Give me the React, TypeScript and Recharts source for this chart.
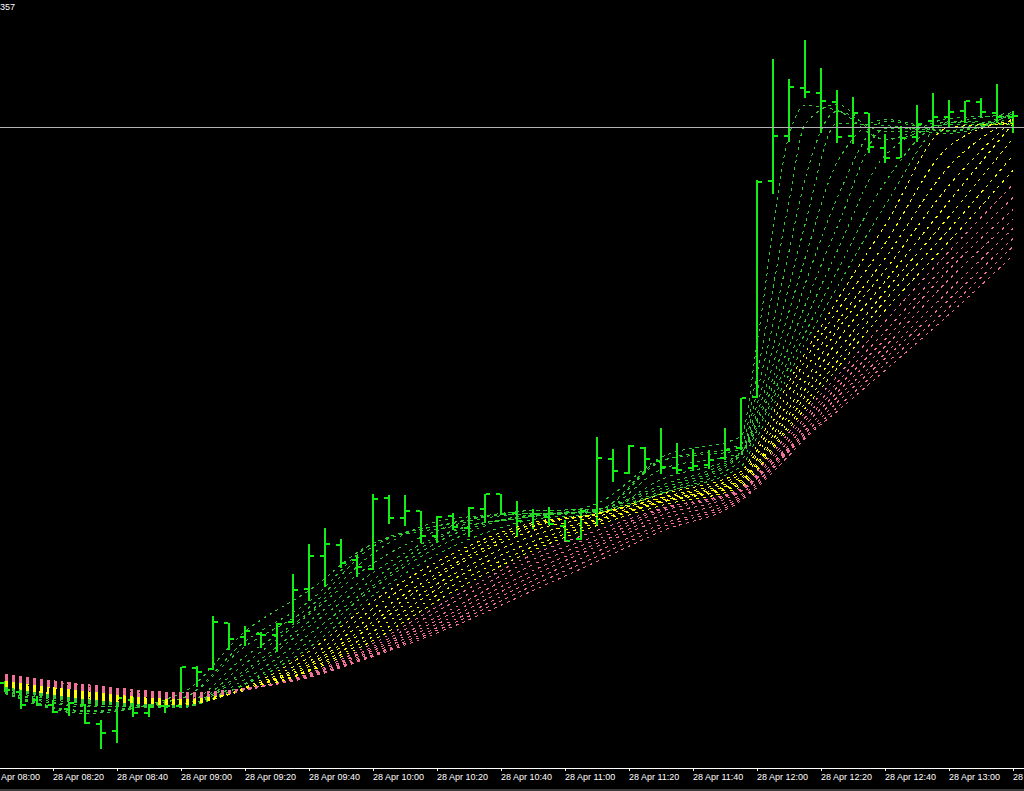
// App.tsx

import { ComposedChart, Bar, Line, XAxis, YAxis, ReferenceLine } from "recharts";

// 5 minute bars, 28 Apr 08:05 .. 13:20
const barOpen = [1.2117,1.2108,1.2100,1.2095,1.2091,1.2095,1.2076,1.2069,1.2100,1.2087,1.2094,1.2094,1.2132,1.2131,1.2177,1.2163,1.2167,1.2166,1.2178,1.2211,1.2244,1.2255,1.2240,1.2231,1.2302,1.2282,1.2289,1.2264,1.2284,1.2272,1.2291,1.2307,1.2288,1.2285,1.2283,1.2274,1.2261,1.2290,1.2341,1.2328,1.2352,1.2339,1.2332,1.2332,1.2335,1.2342,1.2352,1.2403,1.2619,1.2664,1.2712,1.2707,1.2698,1.2664,1.2687,1.2652,1.2642,1.2663,1.2679,1.2683,1.2690,1.2698,1.2687,1.2683];
const barHigh = [1.2119,1.2110,1.2105,1.2100,1.2098,1.2096,1.2080,1.2106,1.2104,1.2095,1.2100,1.2133,1.2134,1.2185,1.2177,1.2174,1.2168,1.2177,1.2227,1.2256,1.2272,1.2261,1.2246,1.2307,1.2306,1.2306,1.2289,1.2284,1.2288,1.2293,1.2307,1.2307,1.2299,1.2291,1.2293,1.2280,1.2290,1.2363,1.2351,1.2355,1.2353,1.2372,1.2357,1.2351,1.2350,1.2372,1.2402,1.2620,1.2741,1.2721,1.2760,1.2732,1.2711,1.2703,1.2687,1.2666,1.2674,1.2695,1.2707,1.2700,1.2699,1.2702,1.2716,1.2689];
const barLow = [1.2108,1.2091,1.2094,1.2087,1.2085,1.2076,1.2051,1.2057,1.2084,1.2084,1.2087,1.2094,1.2113,1.2130,1.2150,1.2154,1.2152,1.2148,1.2177,1.2199,1.2213,1.2232,1.2223,1.2230,1.2276,1.2274,1.2257,1.2257,1.2270,1.2263,1.2278,1.2286,1.2263,1.2271,1.2275,1.2258,1.2260,1.2275,1.2318,1.2327,1.2328,1.2327,1.2327,1.2329,1.2331,1.2340,1.2350,1.2402,1.2606,1.2658,1.2702,1.2667,1.2657,1.2656,1.2647,1.2637,1.2642,1.2658,1.2671,1.2673,1.2677,1.2683,1.2677,1.2667];
const barClose = [1.2110,1.2095,1.2095,1.2088,1.2097,1.2077,1.2067,1.2103,1.2087,1.2093,1.2094,1.2133,1.2128,1.2178,1.2161,1.2169,1.2166,1.2176,1.2210,1.2244,1.2256,1.2237,1.2233,1.2301,1.2282,1.2289,1.2265,1.2283,1.2273,1.2292,1.2307,1.2287,1.2279,1.2287,1.2276,1.2259,1.2289,1.2342,1.2329,1.2354,1.2341,1.2333,1.2330,1.2334,1.2340,1.2350,1.2402,1.2618,1.2664,1.2713,1.2708,1.2699,1.2663,1.2687,1.2653,1.2642,1.2662,1.2676,1.2683,1.2688,1.2699,1.2688,1.2683,1.2684];

// time axis (bar index -1 = 08:00)
const tickBars = [-1, 3, 7, 11, 15, 19, 23, 27, 31, 35, 39, 43, 47, 51, 55, 59, 63];
const tickLabels = [
  "28 Apr 08:00", "28 Apr 08:20", "28 Apr 08:40", "28 Apr 09:00", "28 Apr 09:20",
  "28 Apr 09:40", "28 Apr 10:00", "28 Apr 10:20", "28 Apr 10:40", "28 Apr 11:00",
  "28 Apr 11:20", "28 Apr 11:40", "28 Apr 12:00", "28 Apr 12:20", "28 Apr 12:40",
  "28 Apr 13:00", "28 Apr 13:20",
];

const priceLine = 1.2673;

// moving average ribbon, read at these bars
const ribbonBars = [0, 5, 11, 15, 19, 23, 28, 33, 37, 41, 46, 47, 49, 50, 52, 55, 59, 63];
const ma03 = [1.2107,1.2087,1.2107,1.2169,1.2210,1.2257,1.2274,1.2284,1.2297,1.2343,1.2364,1.2457,1.2665,1.2695,1.2690,1.2661,1.2682,1.2685];
const ma04 = [1.2107,1.2089,1.2102,1.2159,1.2199,1.2257,1.2277,1.2290,1.2291,1.2339,1.2356,1.2427,1.2599,1.2676,1.2696,1.2661,1.2677,1.2688];
const ma05 = [1.2108,1.2090,1.2102,1.2154,1.2193,1.2254,1.2278,1.2290,1.2291,1.2340,1.2351,1.2409,1.2549,1.2621,1.2689,1.2669,1.2670,1.2688];
const ma06 = [1.2109,1.2094,1.2096,1.2144,1.2188,1.2247,1.2282,1.2287,1.2289,1.2331,1.2348,1.2396,1.2514,1.2576,1.2677,1.2675,1.2667,1.2687];
const ma07 = [1.2109,1.2095,1.2093,1.2137,1.2186,1.2237,1.2275,1.2287,1.2288,1.2321,1.2347,1.2387,1.2489,1.2542,1.2638,1.2681,1.2670,1.2686];
const ma08 = [1.2110,1.2097,1.2094,1.2130,1.2179,1.2228,1.2270,1.2284,1.2291,1.2315,1.2348,1.2381,1.2469,1.2516,1.2602,1.2679,1.2669,1.2683];
const ma09 = [1.2111,1.2098,1.2093,1.2127,1.2174,1.2221,1.2269,1.2285,1.2291,1.2312,1.2346,1.2378,1.2454,1.2495,1.2573,1.2672,1.2673,1.2678];
const ma10 = [1.2111,1.2099,1.2093,1.2121,1.2166,1.2215,1.2266,1.2284,1.2289,1.2309,1.2345,1.2373,1.2442,1.2479,1.2549,1.2645,1.2676,1.2676];
const ma11 = [1.2112,1.2100,1.2094,1.2117,1.2159,1.2212,1.2261,1.2286,1.2288,1.2307,1.2340,1.2370,1.2434,1.2467,1.2529,1.2618,1.2679,1.2677];
const ma12 = [1.2113,1.2101,1.2095,1.2116,1.2153,1.2205,1.2254,1.2281,1.2287,1.2307,1.2334,1.2363,1.2426,1.2457,1.2513,1.2595,1.2678,1.2676];
const ma13 = [1.2114,1.2102,1.2096,1.2113,1.2149,1.2199,1.2247,1.2278,1.2287,1.2306,1.2329,1.2355,1.2419,1.2447,1.2500,1.2575,1.2673,1.2677];
const ma14 = [1.2115,1.2103,1.2096,1.2112,1.2143,1.2192,1.2242,1.2276,1.2286,1.2303,1.2326,1.2350,1.2410,1.2440,1.2489,1.2557,1.2654,1.2680];
const ma15 = [1.2115,1.2104,1.2097,1.2111,1.2139,1.2185,1.2236,1.2274,1.2287,1.2302,1.2323,1.2346,1.2400,1.2430,1.2478,1.2542,1.2634,1.2682];
const ma16 = [1.2116,1.2105,1.2098,1.2111,1.2136,1.2179,1.2233,1.2270,1.2284,1.2300,1.2321,1.2341,1.2392,1.2419,1.2470,1.2530,1.2615,1.2681];
const ma17 = [1.2117,1.2106,1.2099,1.2111,1.2134,1.2175,1.2226,1.2265,1.2281,1.2299,1.2320,1.2338,1.2386,1.2411,1.2459,1.2519,1.2599,1.2677];
const ma18 = [1.2118,1.2107,1.2100,1.2110,1.2131,1.2169,1.2221,1.2259,1.2280,1.2298,1.2318,1.2336,1.2380,1.2404,1.2448,1.2509,1.2584,1.2662];
const ma19 = [1.2119,1.2108,1.2100,1.2110,1.2130,1.2164,1.2215,1.2254,1.2278,1.2298,1.2316,1.2334,1.2375,1.2397,1.2439,1.2500,1.2571,1.2645];
const ma20 = [1.2120,1.2109,1.2101,1.2110,1.2129,1.2160,1.2209,1.2250,1.2275,1.2295,1.2314,1.2331,1.2372,1.2392,1.2432,1.2490,1.2559,1.2630];
const ma21 = [1.2120,1.2110,1.2102,1.2110,1.2127,1.2157,1.2203,1.2246,1.2270,1.2292,1.2312,1.2329,1.2368,1.2388,1.2424,1.2479,1.2549,1.2616];
const ma22 = [1.2121,1.2111,1.2103,1.2111,1.2126,1.2154,1.2198,1.2241,1.2265,1.2291,1.2311,1.2326,1.2364,1.2383,1.2418,1.2469,1.2539,1.2603];
const ma23 = [1.2122,1.2112,1.2104,1.2111,1.2126,1.2152,1.2192,1.2236,1.2261,1.2289,1.2310,1.2324,1.2360,1.2379,1.2413,1.2461,1.2531,1.2591];
const ma24 = [1.2123,1.2113,1.2105,1.2111,1.2125,1.2150,1.2188,1.2230,1.2257,1.2285,1.2309,1.2322,1.2356,1.2375,1.2408,1.2454,1.2521,1.2581];
const ma25 = [1.2124,1.2114,1.2105,1.2111,1.2124,1.2148,1.2184,1.2225,1.2254,1.2281,1.2306,1.2322,1.2353,1.2370,1.2403,1.2447,1.2510,1.2572];
const ma26 = [1.2124,1.2115,1.2106,1.2112,1.2124,1.2146,1.2180,1.2220,1.2249,1.2276,1.2304,1.2318,1.2351,1.2367,1.2398,1.2442,1.2501,1.2562];
const ma27 = [1.2125,1.2115,1.2107,1.2112,1.2124,1.2145,1.2177,1.2215,1.2244,1.2273,1.2302,1.2315,1.2349,1.2364,1.2393,1.2436,1.2493,1.2554];
const ma28 = [1.2126,1.2116,1.2108,1.2112,1.2123,1.2144,1.2174,1.2210,1.2239,1.2269,1.2300,1.2313,1.2345,1.2362,1.2389,1.2430,1.2486,1.2545];

const GREEN = "#32cd32";
const YELLOW = "#ffff00";
const PINK = "#f07098";

const ribbon = [
  { key: "ma03", color: GREEN, values: ma03 },
  { key: "ma04", color: GREEN, values: ma04 },
  { key: "ma05", color: GREEN, values: ma05 },
  { key: "ma06", color: GREEN, values: ma06 },
  { key: "ma07", color: GREEN, values: ma07 },
  { key: "ma08", color: GREEN, values: ma08 },
  { key: "ma09", color: GREEN, values: ma09 },
  { key: "ma10", color: GREEN, values: ma10 },
  { key: "ma11", color: GREEN, values: ma11 },
  { key: "ma12", color: GREEN, values: ma12 },
  { key: "ma13", color: YELLOW, values: ma13 },
  { key: "ma14", color: YELLOW, values: ma14 },
  { key: "ma15", color: YELLOW, values: ma15 },
  { key: "ma16", color: YELLOW, values: ma16 },
  { key: "ma17", color: YELLOW, values: ma17 },
  { key: "ma18", color: YELLOW, values: ma18 },
  { key: "ma19", color: YELLOW, values: ma19 },
  { key: "ma20", color: YELLOW, values: ma20 },
  { key: "ma21", color: PINK, values: ma21 },
  { key: "ma22", color: PINK, values: ma22 },
  { key: "ma23", color: PINK, values: ma23 },
  { key: "ma24", color: PINK, values: ma24 },
  { key: "ma25", color: PINK, values: ma25 },
  { key: "ma26", color: PINK, values: ma26 },
  { key: "ma27", color: PINK, values: ma27 },
  { key: "ma28", color: PINK, values: ma28 },
];

type Row = { [k: string]: any };

const rows: Row[] = barOpen.map((open, i) => ({
  i,
  open,
  high: barHigh[i],
  low: barLow[i],
  close: barClose[i],
  range: [barLow[i], barHigh[i]],
}));
ribbonBars.forEach((bar, j) => {
  ribbon.forEach((s) => {
    rows[bar][s.key] = s.values[j];
  });
});

const BAR_COLOR = "#14ee14";

// open tick left, close tick right
function OhlcBar(props: any) {
  const { x, y, width, height, payload } = props;
  if (x == null || y == null) return null;
  const cx = Math.round(x + width / 2);
  const top = Math.min(y, y + height);
  const bottom = Math.max(y, y + height);
  const span = payload.high - payload.low;
  const toY = (v: number) =>
    span > 0 ? top + ((payload.high - v) / span) * (bottom - top) : top;
  const t = Math.round(top);
  const b = Math.round(bottom);
  const oy = Math.round(toY(payload.open));
  const cy = Math.round(toY(payload.close));
  return (
    <g shapeRendering="crispEdges">
      <rect x={cx - 1} y={t} width={2} height={Math.max(2, b - t)} fill={BAR_COLOR} />
      <rect x={cx - 5} y={oy - 1} width={4} height={2} fill={BAR_COLOR} />
      <rect x={cx + 1} y={cy - 1} width={4} height={2} fill={BAR_COLOR} />
    </g>
  );
}

function TimeTick(props: any) {
  const { x, y, payload } = props;
  const label = tickLabels[tickBars.indexOf(payload.value)];
  return (
    <text
      x={x}
      y={y + 7}
      fill="#ffffff"
      fontSize={9}
      fontFamily="'Liberation Sans', Arial, sans-serif"
    >
      {label}
    </text>
  );
}

export default function App() {
  return (
    <div
      style={{
        position: "absolute",
        left: 0,
        top: 0,
        width: 1024,
        height: 791,
        overflow: "hidden",
        background: "#000",
      }}
    >
      <style>{`.recharts-line path, .recharts-reference-line line, .recharts-cartesian-axis line { shape-rendering: crispEdges; }`}</style>
      <div style={{ marginLeft: -16 }}>
        <ComposedChart
          width={1040}
          height={791}
          data={rows}
          margin={{ top: 0, right: 0, bottom: 0, left: 0 }}
        >
          <XAxis
            dataKey="i"
            type="number"
            domain={[-1.3125, 63.6875]}
            allowDataOverflow
            ticks={tickBars}
            interval={0}
            height={23}
            stroke="#ffffff"
            tickSize={3}
            tickLine={{ stroke: "#ffffff" }}
            tick={<TimeTick />}
          />
          <YAxis hide type="number" domain={[1.20325, 1.28005]} allowDataOverflow />
          <Bar
            dataKey="range"
            barSize={10}
            shape={<OhlcBar />}
            isAnimationActive={false}
          />
          {ribbon.map((s) => (
            <Line
              key={s.key}
              dataKey={s.key}
              type="monotone"
              stroke={s.color}
              strokeWidth={1}
              strokeDasharray="3 4"
              dot={false}
              activeDot={false}
              connectNulls
              isAnimationActive={false}
            />
          ))}
          <ReferenceLine y={priceLine} stroke="#b4b4b4" strokeWidth={1} />
        </ComposedChart>
      </div>
      <svg
        width={40}
        height={14}
        style={{ position: "absolute", left: 0, top: 0 }}
      >
        <text x={0} y={10} fill="#ffffff" fontSize={9} fontFamily="'Liberation Sans', Arial, sans-serif">
          357
        </text>
      </svg>
      <div
        style={{
          position: "absolute",
          left: 0,
          top: 789,
          width: 1024,
          height: 2,
          background: "#3a3a3a",
        }}
      />
    </div>
  );
}
